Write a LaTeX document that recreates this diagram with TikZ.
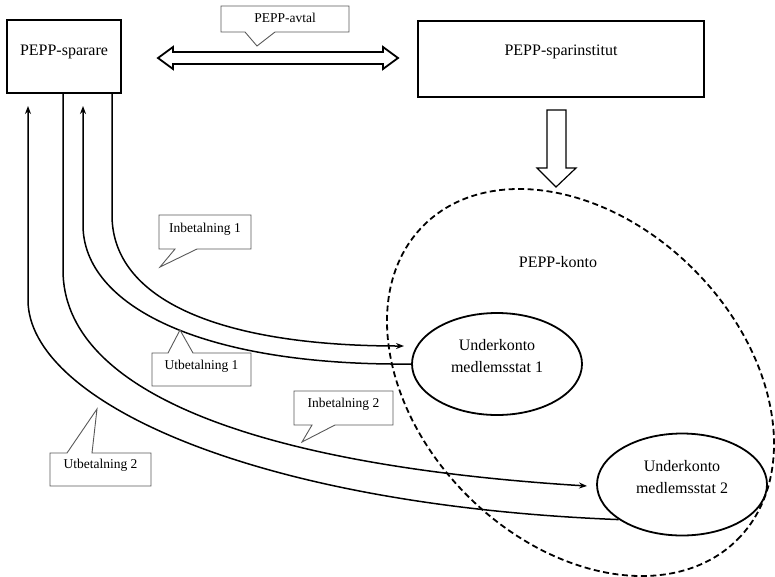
\documentclass[tikz,border=0pt]{standalone}
\usepackage{fontspec}
\setmainfont{Liberation Serif}
\usetikzlibrary{arrows.meta,shapes.geometric}
\tikzset{
  boxT/.style={font=\fontsize{16}{20}\selectfont, inner sep=0pt},
  subT/.style={font=\fontsize{16}{22}\selectfont, inner sep=0pt, align=center},
  calT/.style={font=\fontsize{13.5}{16}\selectfont, inner sep=0pt, anchor=base},
  callout/.style={draw=black!65, line width=0.9pt, fill=white},
  flow/.style={line width=1.5pt},
  tipA/.style={-{Stealth[length=8pt,width=6pt]}},
  sub/.style={draw, ellipse, line width=1.8pt, minimum width=170pt, minimum height=102pt, inner sep=0pt},
  frame/.style={draw, line width=1.8pt},
  bigarrow/.style={line width=1.8pt, line join=miter},
}
\begin{document}
\begin{tikzpicture}[x=1pt,y=-1pt]
\useasboundingbox (0,0) rectangle (775,576);

% boxes
\node[frame, minimum width=114pt, minimum height=73pt] (spar) at (64,56.5) {};
\node[boxT, anchor=base] (sparT) at (64,55) {PEPP-sparare};
\node[frame, minimum width=286pt, minimum height=76pt] (inst) at (561,59) {};
\node[boxT, anchor=base] (instT) at (561,55) {PEPP-sparinstitut};

% PEPP-konto
\node[draw, ellipse, line width=1.8pt, dash pattern=on 6pt off 3.5pt,
      minimum width=444pt, minimum height=320pt, rotate=-45] (konto) at (580.5,382.5) {};
\node[boxT] (kontoT) at (558,262) {PEPP-konto};

% sub accounts
\node[sub] (e1) at (497,364) {};
\node[subT] (e1T) at (497,356.5) {Underkonto\\medlemsstat 1};
\node[sub] (e2) at (682,484.5) {};
\node[subT] (e2T) at (682,477.5) {Underkonto\\medlemsstat 2};

% double arrow (avtal)
\coordinate (avL) at (158,58);
\coordinate (avR) at (398,58);
\draw[bigarrow] (avL) -- (173,47) -- (173,52) -- (383,52) -- (383,47) -- (avR)
  -- (383,69) -- (383,64) -- (173,64) -- (173,69) -- cycle;

% down arrow
\coordinate (dtip) at (556,187);
\draw[line width=1.2pt, line join=miter] (547,110) -- (566,110) -- (566,168) -- (576,168)
  -- (dtip) -- (537,168) -- (547,168) -- cycle;

% flows
\coordinate (i1end) at (404,346);
\coordinate (u1end) at (83,106);
\coordinate (i2end) at (587,486);
\coordinate (u2end) at (28,106);
\draw[flow,tipA] ([xshift=48pt]spar.south) -- (112,215)
  .. controls (112,300) and (220,346) .. (i1end);
\draw[flow,tipA] (e1.west) .. controls (200,366) and (83,305) .. (83,225) -- (u1end);
\draw[flow,tipA] ([xshift=-1pt]spar.south) -- (63,270)
  .. controls (63,390) and (250,465) .. (i2end);
\draw[flow,tipA] (e2.209) .. controls (250,505) and (28,400) .. (28,300) -- (u2end);

% callouts
\draw[callout] (221,6) -- (349,6) -- (349,32) -- (275,32) -- (257,46) -- (245,32) -- (221,32) -- cycle;
\node[calT] (avT) at (285,22) {PEPP-avtal};

\draw[callout] (159,215) -- (251,215) -- (251,249) -- (197,249) -- (160,267) -- (175,249) -- (159,249) -- cycle;
\node[calT] (c1) at (205,232) {Inbetalning 1};

\draw[callout] (152,353) -- (168,353) -- (180,330) -- (193,353) -- (251,353) -- (251,386) -- (152,386) -- cycle;
\node[calT] (c2) at (201.5,369) {Utbetalning 1};

\draw[callout] (294,391) -- (393,391) -- (393,425) -- (335,425) -- (302,442) -- (312,425) -- (294,425) -- cycle;
\node[calT] (c3) at (343.5,407) {Inbetalning 2};

\draw[callout] (50,453) -- (67,453) -- (97,409) -- (92,453) -- (151,453) -- (151,486) -- (50,486) -- cycle;
\node[calT] (c4) at (100.5,468) {Utbetalning 2};
\end{tikzpicture}
\end{document}
